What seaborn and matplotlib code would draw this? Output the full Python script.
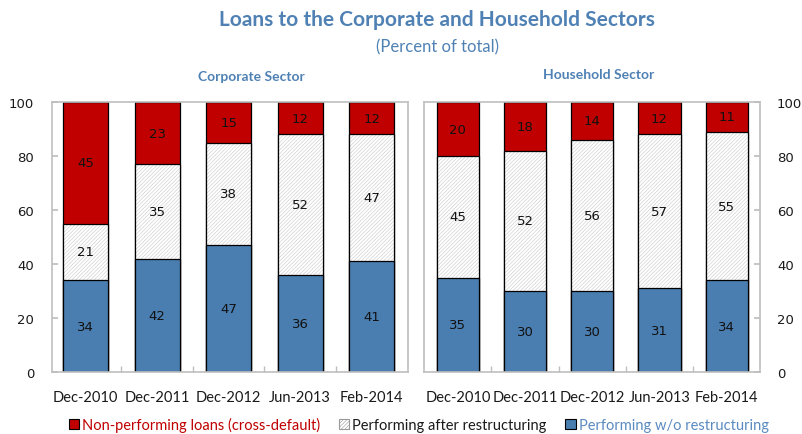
import pandas as pd
import seaborn as sns
import matplotlib.pyplot as plt
from matplotlib.patches import Patch
from matplotlib.colors import to_rgba

# data
dates = ['Dec-2010', 'Dec-2011', 'Dec-2012', 'Jun-2013', 'Feb-2014']

corp_performing = [34, 42, 47, 36, 41]
corp_restructured = [21, 35, 38, 52, 47]
corp_npl = [45, 23, 15, 12, 12]

hh_performing = [35, 30, 30, 31, 34]
hh_restructured = [45, 52, 56, 57, 55]
hh_npl = [20, 18, 14, 12, 11]

series_names = ['Non-performing loans (cross-default)',
                'Performing after restructuring',
                'Performing w/o restructuring']

RED = '#C00000'
BLUE = '#4A7EB0'
TITLE_BLUE = '#4F81B4'
GRID_GRAY = '#BFBFBF'
HATCH = '/////////'

sns.set_theme(style='white')
plt.rcParams['font.family'] = ['Lato', 'DejaVu Sans']
plt.rcParams['hatch.linewidth'] = 0.4

fig = plt.figure(figsize=(8.02, 4.35), dpi=100)
ax_corp = fig.add_axes([0.065, 0.1425, 0.444, 0.6205])
ax_hh = fig.add_axes([0.529, 0.1425, 0.419, 0.6205])


def draw_panel(ax, performing, restructured, npl, xlim, right=False):
    df = pd.DataFrame({'date': dates, 'perf': performing,
                       'restr': restructured, 'npl': npl})
    df['mid_top'] = df['perf'] + df['restr']
    df['top'] = df['mid_top'] + df['npl']

    common = dict(data=df, x='date', order=dates, width=0.63, saturation=1,
                  errorbar=None, ax=ax, edgecolor='black', linewidth=0.9)
    sns.barplot(y='top', color=RED, **common)
    sns.barplot(y='mid_top', color='white', hatch=HATCH, **common)
    for p in ax.containers[-1]:
        p._hatch_color = to_rgba('#C8C8C8')
    sns.barplot(y='perf', color=BLUE, **common)

    # segment labels
    for i, row in df.iterrows():
        for val, mid in [(row['perf'], row['perf'] / 2),
                         (row['restr'], row['perf'] + row['restr'] / 2),
                         (row['npl'], row['mid_top'] + row['npl'] / 2)]:
            ax.text(i, mid, str(val), ha='center', va='center',
                    fontsize=9.5, color='#111111', family='DejaVu Sans')

    ax.set_ylim(0, 100)
    ax.set_xlim(*xlim)
    ax.set_yticks(range(0, 101, 20))
    ax.set_xlabel('')
    ax.set_ylabel('')

    for s in ax.spines.values():
        s.set_color(GRID_GRAY)
        s.set_linewidth(1.2)

    if right:
        ax.yaxis.tick_right()
        ax.tick_params(axis='y', which='major', right=True, left=False,
                       direction='in', length=4, color=GRID_GRAY, pad=12)
    else:
        ax.tick_params(axis='y', which='major', left=True, direction='in',
                       length=4, color=GRID_GRAY, pad=13)
    for lbl in ax.get_yticklabels():
        lbl.set_fontfamily('DejaVu Sans')
        lbl.set_fontsize(9.5)
        lbl.set_color('#1a1a1a')

    ax.set_xticks([0.5, 1.5, 2.5, 3.5], minor=True)
    ax.tick_params(axis='x', which='minor', bottom=True, direction='in',
                   length=4, color=GRID_GRAY)
    ax.tick_params(axis='x', which='major', length=0, pad=13,
                   labelsize=10.5, labelcolor='#1a1a1a')


draw_panel(ax_corp, corp_performing, corp_restructured, corp_npl, (-0.47, 4.51))
draw_panel(ax_hh, hh_performing, hh_restructured, hh_npl, (-0.5, 4.5), right=True)

fig.text(0.545, 0.954, 'Loans to the Corporate and Household Sectors',
         ha='center', va='center', fontsize=15, fontweight='bold', color=TITLE_BLUE)
fig.text(0.545, 0.892, '(Percent of total)', ha='center', va='center',
         fontsize=12, color=TITLE_BLUE)
fig.text(0.314, 0.823, 'Corporate Sector', ha='center', va='center',
         fontsize=10, fontweight='bold', color=TITLE_BLUE)
fig.text(0.746, 0.828, 'Household Sector', ha='center', va='center',
         fontsize=10, fontweight='bold', color=TITLE_BLUE)

handles = [Patch(facecolor=RED, edgecolor='black', linewidth=0.8),
           Patch(facecolor='white', edgecolor='#999999', hatch=HATCH, linewidth=0.8),
           Patch(facecolor=BLUE, edgecolor='black', linewidth=0.8)]
leg = fig.legend(handles, series_names, loc='center', bbox_to_anchor=(0.522, 0.021),
                 ncol=3, frameon=False, handlelength=0.7, handleheight=0.7,
                 handletextpad=0.2, columnspacing=1.3, fontsize=10.5)
for txt, c in zip(leg.get_texts(), [RED, '#1a1a1a', '#5A8AC0']):
    txt.set_color(c)

fig.savefig('out.png', dpi=100)
